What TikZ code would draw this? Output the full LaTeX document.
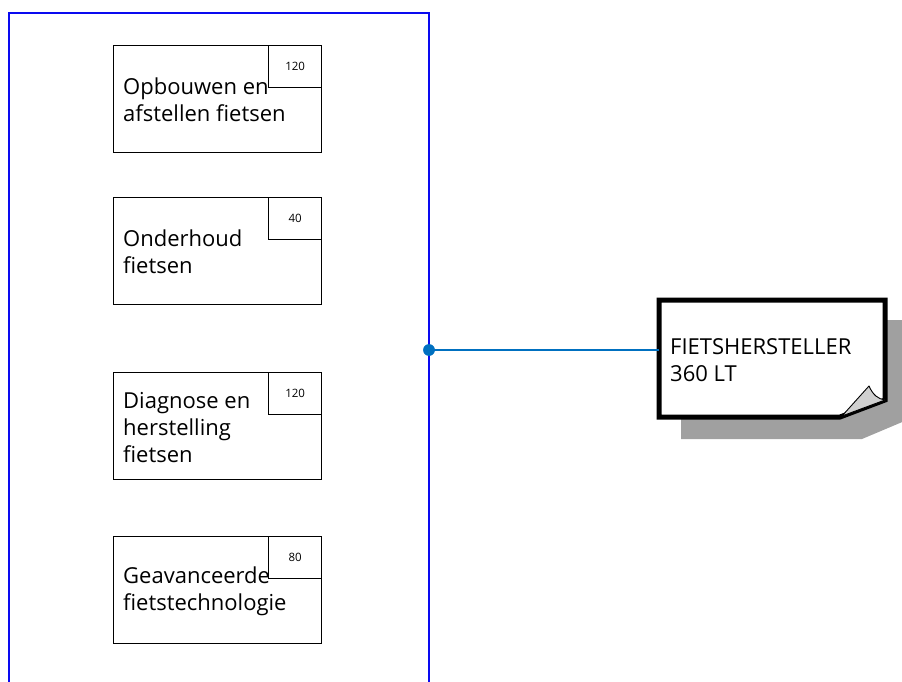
\documentclass[tikz,border=0pt]{standalone}
\usepackage{fontspec}
\setmainfont{Open Sans}[Ligatures=NoCommon]
\begin{document}
\begin{tikzpicture}[x=1pt,y=-1pt,
 task/.style={draw=black, line width=1.4pt, minimum width=208pt, minimum height=107pt, inner sep=0pt, anchor=north west},
 num/.style={draw=black, line width=1.4pt, minimum width=53pt, minimum height=42pt, inner sep=0pt, anchor=north east, font=\fontsize{11.5}{13}\selectfont},
 lbl/.style={anchor=west, align=left, font=\fontsize{22}{27}\selectfont, inner sep=0pt},
 container/.style={draw={rgb,255:red,10;green,10;blue,240}, line width=1.6pt},
 conn/.style={draw={rgb,255:red,0;green,112;blue,192}, line width=1.3pt},
 dotstyle/.style={circle, fill={rgb,255:red,0;green,112;blue,192}, inner sep=0pt, minimum size=11.5pt},
]
\useasboundingbox (0,0) rectangle (902,682);
% container
\draw[container] (9,682) -- (9,13) -- (429,13) -- (429,682);
% tasks
\node[task] (t1) at (113,45) {};
\node[num] (n1) at (t1.north east) {120};
\node[lbl] (l1) at (123,100) {Opbouwen en\\afstellen fietsen};
\node[task] (t2) at (113,197) {};
\node[num] (n2) at (t2.north east) {40};
\node[lbl] (l2) at (123,252) {Onderhoud\\fietsen};
\node[task] (t3) at (113,372) {};
\node[num] (n3) at (t3.north east) {120};
\node[lbl] (l3) at (123,428) {Diagnose en\\herstelling\\fietsen};
\node[task] (t4) at (113,536) {};
\node[num] (n4) at (t4.north east) {80};
\node[lbl] (l4) at (123,591) {Geavanceerde\\fietstechnologie};
% note shadow
\begin{scope}
\clip (0,0) rectangle (902,682);
\fill[fill={rgb,255:red,160;green,160;blue,160}] (681,320) -- (907,320) -- (907,420) -- (862,439) -- (681,439) -- cycle;
\end{scope}
% note
\filldraw[fill=white, draw=black, line width=5pt, line join=miter] (659,300) -- (885,300) -- (885,400) -- (840,417) -- (659,417) -- cycle;
\filldraw[fill={rgb,255:red,208;green,208;blue,208}, draw=black, line width=0.9pt, line join=round] (842,416) -- (869,386) .. controls (873,395) and (878,399) .. (885,400) -- cycle;
\node[minimum width=226pt, minimum height=117pt, inner sep=0pt] (note) at (772,358.5) {};
\node[lbl] (nl) at (670,360) {FIETSHERSTELLER\\360 LT};
% connector
\node[dotstyle] (dot) at (429,350) {};
\draw[conn] (dot.center) -- (dot.center -| note.west);
\node[dotstyle] at (dot) {};
\end{tikzpicture}
\end{document}
